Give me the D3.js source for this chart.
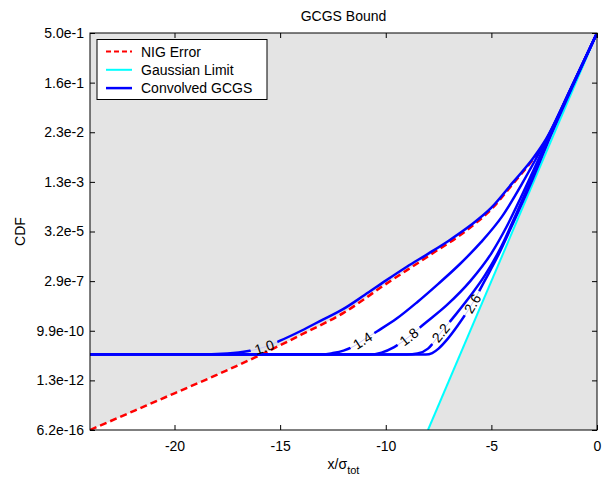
<!DOCTYPE html>
<html lang="en">
<head>
<meta charset="utf-8">
<title>GCGS Bound</title>
<script src="https://cdnjs.cloudflare.com/ajax/libs/d3/7.8.5/d3.min.js"></script>
<style>
  body { margin: 0; background: #fff; }
  text { font-family: "Liberation Sans", Arial, sans-serif; fill: #000; }
</style>
</head>
<body>
<div id="chart"></div>
<script>

// y values are Gaussian quantiles (sigma units), the axis shows the matching CDF
var yTicks = [0, -1, -2, -3, -4, -5, -6, -7, -8];
var yTickLabels = ["5.0e-1", "1.6e-1", "2.3e-2", "1.3e-3", "3.2e-5", "2.9e-7", "9.9e-10", "1.3e-12", "6.2e-16"];
var xTicks = [-20, -15, -10, -5, 0];

// NIG error bound  [x/sigma, quantile]
var nigError = [[-24, -8.0], [-22, -7.63], [-20, -7.26], [-18, -6.89], [-16, -6.50], [-14, -6.08],
  [-12, -5.64], [-10, -5.06], [-8, -4.50], [-6, -3.92], [-5, -3.55], [-4, -3.05], [-3, -2.53],
  [-2.4, -2.15], [-1.2, -1.10], [0, 0]];

// Gaussian limit
var gaussLimit = [[-8, -8], [0, 0]];

// Convolved GCGS curves
var gcgs10 = [[-24, -6.48], [-19, -6.48], [-17.5, -6.46], [-16.5, -6.41], [-15.75, -6.33], [-15, -6.20],
  [-14, -6.00], [-13, -5.78], [-12, -5.56], [-11, -5.28], [-10, -4.99], [-9, -4.71], [-8, -4.45],
  [-7, -4.18], [-6, -3.88], [-5, -3.52], [-4, -3.02], [-3, -2.51], [-2.4, -2.13], [-1.2, -1.09], [0, 0]];
var gcgs14 = [[-24, -6.48], [-13, -6.48], [-12.5, -6.45], [-12, -6.40], [-11.5, -6.31], [-11, -6.17],
  [-10.4, -6.01], [-9.5, -5.76], [-8.5, -5.42], [-7.5, -5.05], [-6.5, -4.66], [-5.5, -4.22],
  [-4.5, -3.70], [-3.5, -3.00], [-3, -2.62], [-2.4, -2.15], [-1.2, -1.08], [0, 0]];
var gcgs18 = [[-24, -6.48], [-10.8, -6.48], [-10.2, -6.44], [-9.6, -6.33], [-8.9, -6.12], [-8.2, -5.87],
  [-7.1, -5.48], [-6, -5.00], [-5, -4.44], [-4.3, -3.92], [-3.6, -3.31], [-3, -2.76], [-2.4, -2.20],
  [-1.2, -1.09], [0, 0]];
var gcgs22 = [[-24, -6.48], [-9.0, -6.48], [-8.5, -6.46], [-8.0, -6.36], [-7.4, -6.04], [-6.7, -5.68],
  [-6, -5.30], [-5.3, -4.88], [-4.5, -4.28], [-3.8, -3.62], [-3, -2.84], [-2.4, -2.24], [-1.2, -1.10],
  [0, 0]];
var gcgs26 = [[-24, -6.48], [-8.1, -6.48], [-7.8, -6.45], [-7.5, -6.36], [-7.1, -6.18], [-6.6, -5.90],
  [-5.9, -5.45], [-5.3, -4.98], [-4.7, -4.50], [-4, -3.86], [-3.2, -3.10], [-2.4, -2.28], [-1.2, -1.12],
  [0, 0]];

var gcgsCurves = [gcgs10, gcgs14, gcgs18, gcgs22, gcgs26];
var gcgsLevels = ["1.0", "1.4", "1.8", "2.2", "2.6"];
var gcgsLabelX = [-15.75, -11.1, -8.9, -7.4, -5.9];

var legendNames = ["NIG Error", "Gaussian Limit", "Convolved GCGS"];

var W = 611, H = 477;
var pLeft = 90, pRight = 597, pTop = 33, pBottom = 430;

var x = d3.scaleLinear().domain([-24, 0]).range([pLeft, pRight]);
var y = d3.scaleLinear().domain([-8, 0]).range([pBottom, pTop]);

var svg = d3.select("#chart").append("svg")
  .attr("width", W)
  .attr("height", H);

var defs = svg.append("defs");
defs.append("clipPath").attr("id", "plotClip")
  .append("rect")
  .attr("x", pLeft).attr("y", pTop)
  .attr("width", pRight - pLeft).attr("height", pBottom - pTop);

// background
svg.append("rect")
  .attr("x", pLeft).attr("y", pTop)
  .attr("width", pRight - pLeft).attr("height", pBottom - pTop)
  .attr("fill", "#e4e4e4");

var line = d3.line()
  .x(function(d) { return x(d[0]); })
  .y(function(d) { return y(d[1]); })
  .curve(d3.curveMonotoneX);

var plot = svg.append("g").attr("clip-path", "url(#plotClip)");

// white region between NIG bound and Gaussian limit
plot.append("path")
  .attr("d", line(nigError) + "L" + x(gaussLimit[0][0]) + "," + y(gaussLimit[0][1]) + "Z")
  .attr("fill", "#fff");

plot.append("path")
  .attr("d", line(nigError))
  .attr("fill", "none")
  .attr("stroke", "#ff0000")
  .attr("stroke-width", 2.5)
  .attr("stroke-dasharray", "7,4");

plot.append("path")
  .attr("d", line(gaussLimit))
  .attr("fill", "none")
  .attr("stroke", "#00ffff")
  .attr("stroke-width", 2);

// value on a curve at a given x (linear between points)
function curveAt(pts, xv) {
  for (var i = 1; i < pts.length; i++) {
    if (pts[i][0] >= xv) {
      var t = (xv - pts[i - 1][0]) / (pts[i][0] - pts[i - 1][0]);
      return pts[i - 1][1] + t * (pts[i][1] - pts[i - 1][1]);
    }
  }
  return pts[pts.length - 1][1];
}

gcgsCurves.forEach(function(pts, i) {

  var lx = gcgsLabelX[i];
  var px = x(lx), py = y(curveAt(pts, lx));
  var dx = x(lx + 0.3) - x(lx - 0.3);
  var dy = y(curveAt(pts, lx + 0.3)) - y(curveAt(pts, lx - 0.3));
  var angle = Math.atan2(dy, dx) * 180 / Math.PI;

  // cut the line where the label sits
  var mask = defs.append("mask")
    .attr("id", "gap" + i)
    .attr("maskUnits", "userSpaceOnUse")
    .attr("x", 0).attr("y", 0).attr("width", W).attr("height", H);
  mask.append("rect").attr("width", W).attr("height", H).attr("fill", "#fff");
  mask.append("rect")
    .attr("x", -14).attr("y", -8).attr("width", 28).attr("height", 16)
    .attr("transform", "translate(" + px + "," + py + ") rotate(" + angle + ")")
    .attr("fill", "#000");

  plot.append("path")
    .attr("d", line(pts))
    .attr("fill", "none")
    .attr("stroke", "#c8c8f4")
    .attr("stroke-width", 1);

  plot.append("path")
    .attr("d", line(pts))
    .attr("fill", "none")
    .attr("stroke", "#0000ff")
    .attr("stroke-width", 2.5)
    .attr("mask", "url(#gap" + i + ")");

  svg.append("text")
    .attr("transform", "translate(" + px + "," + py + ") rotate(" + angle + ")")
    .attr("text-anchor", "middle")
    .attr("dy", "0.36em")
    .attr("font-size", 14)
    .text(gcgsLevels[i]);
});

// axes, ticks pointing inwards
svg.append("g")
  .attr("transform", "translate(0," + pBottom + ")")
  .call(d3.axisBottom(x).tickValues(xTicks).tickSize(-5).tickPadding(11)
    .tickFormat(function(d) { return String(d); }));
svg.append("g")
  .attr("transform", "translate(0," + pTop + ")")
  .call(d3.axisTop(x).tickValues(xTicks).tickSize(-5).tickFormat(""));
svg.append("g")
  .attr("transform", "translate(" + pLeft + ",0)")
  .call(d3.axisLeft(y).tickValues(yTicks).tickSize(-5).tickPadding(6)
    .tickFormat(function(d, i) { return yTickLabels[i]; }));
svg.append("g")
  .attr("transform", "translate(" + pRight + ",0)")
  .call(d3.axisRight(y).tickValues(yTicks).tickSize(-5).tickFormat(""));

svg.selectAll(".domain").remove();
svg.selectAll(".tick line").attr("stroke", "#000");
svg.selectAll(".tick text")
  .attr("font-size", 14)
  .attr("font-family", "Liberation Sans, Arial, sans-serif")
  .attr("fill", "#000");

svg.append("rect")
  .attr("x", pLeft).attr("y", pTop)
  .attr("width", pRight - pLeft).attr("height", pBottom - pTop)
  .attr("fill", "none")
  .attr("stroke", "#000")
  .attr("stroke-width", 1);

// titles
svg.append("text")
  .attr("x", (pLeft + pRight) / 2).attr("y", 21)
  .attr("text-anchor", "middle")
  .attr("font-size", 14)
  .text("GCGS Bound");

svg.append("text")
  .attr("transform", "translate(25," + (pTop + pBottom) / 2 + ") rotate(-90)")
  .attr("text-anchor", "middle")
  .attr("font-size", 14)
  .text("CDF");

var xlab = svg.append("text")
  .attr("x", (pLeft + pRight) / 2).attr("y", 469)
  .attr("text-anchor", "middle")
  .attr("font-size", 14);
xlab.append("tspan").text("x/σ");
xlab.append("tspan").attr("font-size", 11).attr("dy", 5).text("tot");

// legend
var legend = svg.append("g");
legend.append("rect")
  .attr("x", 97).attr("y", 39.5)
  .attr("width", 170).attr("height", 60)
  .attr("fill", "#fff")
  .attr("stroke", "#000");

var legendStyles = [
  { stroke: "#ff0000", dash: "5,3", width: 2 },
  { stroke: "#00ffff", dash: null, width: 2 },
  { stroke: "#0000ff", dash: null, width: 2.5 }
];

legendNames.forEach(function(name, i) {
  var ly = 51.5 + i * 18.3;
  legend.append("line")
    .attr("x1", 106).attr("x2", 132)
    .attr("y1", ly).attr("y2", ly)
    .attr("stroke", legendStyles[i].stroke)
    .attr("stroke-width", legendStyles[i].width)
    .attr("stroke-dasharray", legendStyles[i].dash);
  legend.append("text")
    .attr("x", 141).attr("y", ly)
    .attr("dy", "0.36em")
    .attr("font-size", 14)
    .text(name);
});

</script>
</body>
</html>
